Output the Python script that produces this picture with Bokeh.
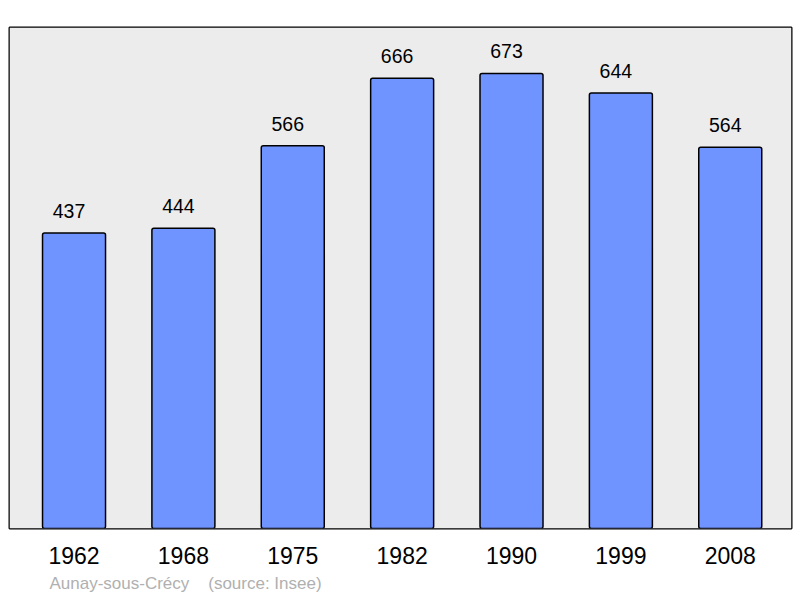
from bokeh.plotting import figure
from bokeh.models import FixedTicker, Range1d, BoxAnnotation, Title, ColumnDataSource
from bokeh.core.properties import value
from bokeh.embed import file_html
from bokeh.resources import INLINE

years = ["1962", "1968", "1975", "1982", "1990", "1999", "2008"]
population = [437, 444, 566, 666, 673, 644, 564]
footer = "Aunay-sous-Crécy\u00a0\u00a0\u00a0\u00a0(source: Insee)"

idx = list(range(len(years)))
src = ColumnDataSource(dict(x=idx, y=population, lab=[str(v) for v in population]))

FONT = "Liberation Sans"

p = figure(width=800, height=598, output_backend="svg", toolbar_location=None,
           x_range=Range1d(-0.59, 6.56), y_range=Range1d(0, 741),
           min_border_left=9, min_border_right=9, min_border_top=27, min_border_bottom=70)

p.background_fill_color = "white"
p.border_fill_color = "white"
p.outline_line_color = "black"
p.outline_line_width = 2
p.grid.visible = False
p.yaxis.visible = False

frame_box = BoxAnnotation(fill_color="#ececec", fill_alpha=1.0, line_color=None,
                          level="underlay")
p.add_layout(frame_box)

p.vbar(x="x", top="y", width=0.576, bottom=0, source=src, fill_color="#7094ff",
       line_color="black", line_width=1.5, border_radius=2)

p.text(x="x", y="y", text="lab", source=src, text_align="center", text_baseline="alphabetic",
       x_offset=-5, y_offset=-22, text_font=value(FONT), text_font_size="19.5px",
       text_color="black")

ax = p.xaxis[0]
ax.ticker = FixedTicker(ticks=idx)
ax.major_label_overrides = {i: y for i, y in zip(idx, years)}
ax.axis_line_color = None
ax.major_tick_line_color = None
ax.minor_tick_line_color = None
ax.major_tick_out = 0
ax.major_tick_in = 0
ax.major_label_standoff = 18
ax.major_label_text_font = FONT
ax.major_label_text_font_size = "23px"
ax.major_label_text_color = "black"

t = Title(text=footer, align="left", offset=40, text_font=FONT, text_font_size="17px",
          text_font_style="normal", text_color="#b0b0b0", standoff=10)
p.add_layout(t, "below")

open("out.html", "w").write(file_html(p, INLINE))
